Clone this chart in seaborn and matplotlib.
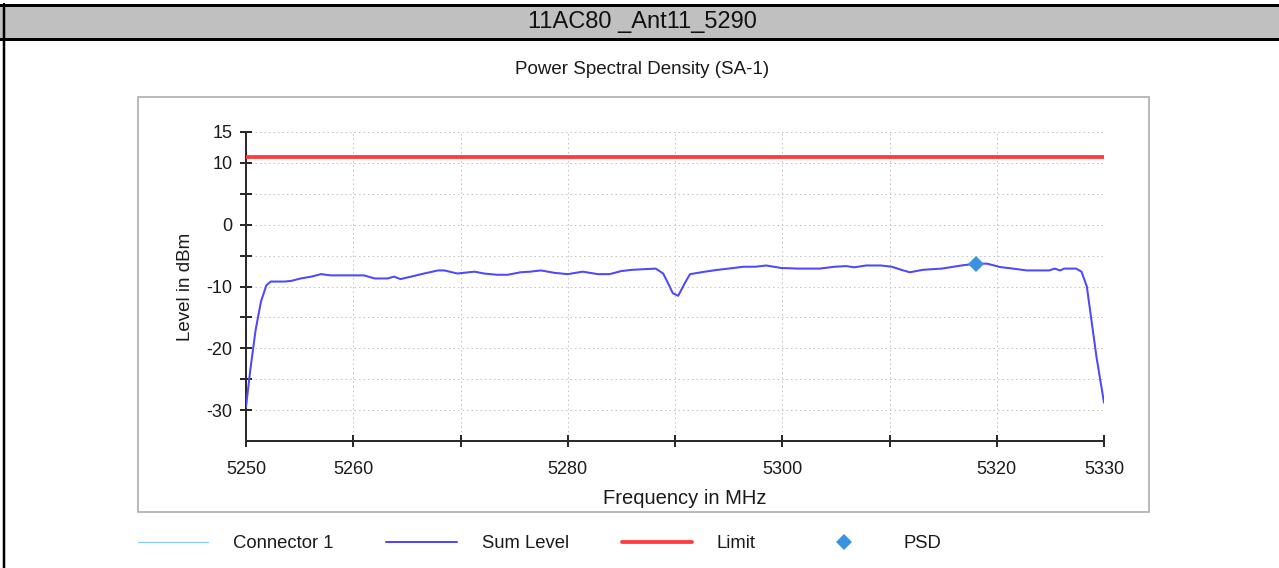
import numpy as np
import pandas as pd
import matplotlib
matplotlib.use("Agg")
import matplotlib.pyplot as plt
import seaborn as sns
from matplotlib.patches import Rectangle
from matplotlib.lines import Line2D
from matplotlib.ticker import FixedLocator, FuncFormatter

# ---------------- data ----------------
header_text = "11AC80 _Ant11_5290"
chart_title = "Power Spectral Density (SA-1)"
x_label = "Frequency in MHz"
y_label = "Level in dBm"
series_names = ["Connector 1", "Sum Level", "Limit", "PSD"]

freq_mhz = [
    5250.0, 5250.4, 5250.9, 5251.4, 5251.9, 5252.3, 5252.9, 5253.6, 5254.2, 5255.1,
    5256.1, 5257.0, 5257.9, 5259.5, 5261.0, 5262.0, 5263.2, 5263.8, 5264.4, 5265.4,
    5266.6, 5267.9, 5268.5, 5269.7, 5271.3, 5272.2, 5273.4, 5274.4, 5275.6, 5276.5,
    5277.5, 5278.8, 5280.0, 5281.4, 5282.8, 5283.9, 5285.0, 5286.0, 5287.1, 5288.2,
    5288.9, 5289.5, 5289.8, 5290.3, 5290.9, 5291.4, 5292.8, 5294.0, 5295.0, 5296.4,
    5297.5, 5298.5, 5299.9, 5301.4, 5303.5, 5304.9, 5306.0, 5306.7, 5307.8, 5309.2,
    5310.2, 5311.1, 5311.9, 5313.1, 5314.9, 5316.7, 5318.1, 5319.1, 5320.3, 5321.5,
    5322.8, 5324.9, 5325.4, 5325.9, 5326.3, 5327.4, 5327.9, 5328.4, 5328.8, 5329.3,
    5330.0,
]
sum_level_dbm = [
    -29.5, -23.5, -17.0, -12.4, -9.8, -9.2, -9.2, -9.2, -9.1, -8.7,
    -8.4, -8.0, -8.2, -8.2, -8.2, -8.7, -8.7, -8.4, -8.8, -8.4,
    -7.9, -7.4, -7.4, -7.9, -7.6, -7.9, -8.1, -8.1, -7.7, -7.6,
    -7.4, -7.8, -8.0, -7.6, -8.0, -8.0, -7.5, -7.3, -7.2, -7.1,
    -7.9, -10.0, -11.1, -11.5, -9.5, -8.0, -7.6, -7.3, -7.1, -6.8,
    -6.8, -6.6, -7.0, -7.1, -7.1, -6.8, -6.7, -6.9, -6.6, -6.6,
    -6.8, -7.3, -7.7, -7.3, -7.1, -6.6, -6.3, -6.3, -6.85, -7.1,
    -7.4, -7.4, -7.1, -7.4, -7.1, -7.1, -7.6, -10.0, -15.1, -21.4,
    -28.8,
]
connector1_dbm = list(sum_level_dbm)          # single connector -> same trace
limit_freq_mhz = [5250.0, 5330.0]
limit_dbm = [11.0, 11.0]
psd_freq_mhz = [5318.1]
psd_dbm = [-6.3]

x_ticks = [5250, 5260, 5270, 5280, 5290, 5300, 5310, 5320, 5330]
x_tick_labels = {5250: "5250", 5260: "5260", 5280: "5280", 5300: "5300",
                 5320: "5320", 5330: "5330"}
y_ticks = [-30, -25, -20, -15, -10, -5, 0, 5, 10, 15]
y_tick_labels = {15: "15", 10: "10", 0: "0", -10: "-10", -20: "-20", -30: "-30"}

# ---------------- styling ----------------
W, H = 1279, 568
sns.set_theme(style="white")
plt.rcParams["font.family"] = ["Liberation Sans", "DejaVu Sans"]

def fx(x):
    return x / W

def fy(y):
    return 1 - y / H

PX = 0.72  # points per pixel at dpi 100

fig = plt.figure(figsize=(W / 100, H / 100), dpi=100)

ax_l, ax_r, ax_t, ax_b = 246, 1104, 132, 441
ax = fig.add_axes([fx(ax_l), fy(ax_b), (ax_r - ax_l) / W, (ax_b - ax_t) / H])

df_sum = pd.DataFrame({"freq": freq_mhz, "level": sum_level_dbm})
df_con = pd.DataFrame({"freq": freq_mhz, "level": connector1_dbm})
df_lim = pd.DataFrame({"freq": limit_freq_mhz, "level": limit_dbm})
df_psd = pd.DataFrame({"freq": psd_freq_mhz, "level": psd_dbm})

sns.lineplot(data=df_con, x="freq", y="level", ax=ax, color="#8cc6ff",
             linewidth=1.2 * PX, label=series_names[0], zorder=3, sort=False)
sns.lineplot(data=df_sum, x="freq", y="level", ax=ax, color="#5048ff",
             linewidth=2.0 * PX, label=series_names[1], zorder=4, sort=False)
sns.lineplot(data=df_lim, x="freq", y="level", ax=ax, color="#ff3b3b",
             linewidth=3.8 * PX, label=series_names[2], zorder=4, sort=False)
ax.plot(df_psd["freq"], df_psd["level"], linestyle="none", marker="D",
        markersize=12 * PX, color="#3a92e0", markeredgewidth=0,
        label=series_names[3], zorder=5)

handles, labels = ax.get_legend_handles_labels()
if ax.get_legend() is not None:
    ax.get_legend().remove()

ax.set_xlim(5250, 5330)
ax.set_ylim(-35, 15)

ax.xaxis.set_major_locator(FixedLocator(x_ticks))
ax.yaxis.set_major_locator(FixedLocator(y_ticks))
ax.xaxis.set_major_formatter(FuncFormatter(lambda v, p: x_tick_labels.get(int(round(v)), "")))
ax.yaxis.set_major_formatter(FuncFormatter(lambda v, p: y_tick_labels.get(int(round(v)), "")))

ax.grid(True, which="major", linestyle=(0, (1.5, 3)), color="#c4c4c4",
        linewidth=1.0 * PX)
ax.set_axisbelow(True)

for side in ("top", "right"):
    ax.spines[side].set_visible(False)
for side in ("left", "bottom"):
    ax.spines[side].set_color("#2a2a2a")
    ax.spines[side].set_linewidth(2.0 * PX)

ax.tick_params(axis="both", direction="inout", length=12 * PX, width=2.0 * PX,
               color="#2a2a2a", labelcolor="#1a1a1a", labelsize=13)
ax.tick_params(axis="x", pad=10)
ax.tick_params(axis="y", pad=5.5)
ax.tick_params(axis="both", bottom=True, left=True)

ax.set_xlabel(x_label, fontsize=14.5, color="#1a1a1a")
ax.set_ylabel(y_label, fontsize=13.5, color="#1a1a1a")
ax.xaxis.set_label_coords((685 - ax_l) / (ax_r - ax_l), (ax_b - 499) / (ax_b - ax_t))
ax.xaxis.label.set_va("center")
ax.yaxis.set_label_coords((186 - ax_l) / (ax_r - ax_l), 0.5)
ax.yaxis.label.set_va("center")

ax.set_title(chart_title, fontsize=13.5, color="#1a1a1a",
             x=(642 - ax_l) / (ax_r - ax_l), y=(ax_b - 70) / (ax_b - ax_t),
             va="center", pad=0)

# chart frame (light grey box)
fig.patches.append(Rectangle((fx(138), fy(512)), (1149 - 138) / W, (512 - 97) / H,
                             transform=fig.transFigure, fill=False,
                             edgecolor="#a9a9a9", linewidth=1.6 * PX, zorder=0))

# header bar
fig.patches.append(Rectangle((0, fy(38.5)), 1, (38.5 - 5) / H,
                             transform=fig.transFigure, facecolor="#c0c0c0",
                             edgecolor="none", zorder=0))
fig.add_artist(Line2D([0, 1], [fy(5), fy(5)], transform=fig.transFigure,
                      color="black", linewidth=3 * PX))
fig.add_artist(Line2D([0, 1], [fy(38.5), fy(38.5)], transform=fig.transFigure,
                      color="black", linewidth=3 * PX))
fig.add_artist(Line2D([fx(3.5), fx(3.5)], [fy(4), 0], transform=fig.transFigure,
                      color="black", linewidth=2.5 * PX))
fig.text(fx(642), fy(22), header_text, ha="center", va="center",
         fontsize=17, color="#111111")

# legend below the chart box
fig.legend(handles, labels, loc="center left",
           bbox_to_anchor=(fx(138), fy(544)), ncol=4, frameon=False,
           fontsize=13.3, handlelength=3.8, handletextpad=1.35,
           columnspacing=2.86, borderpad=0, borderaxespad=0, numpoints=1,
           labelcolor="#1a1a1a")

fig.savefig("out.png", dpi=100, facecolor="white")
